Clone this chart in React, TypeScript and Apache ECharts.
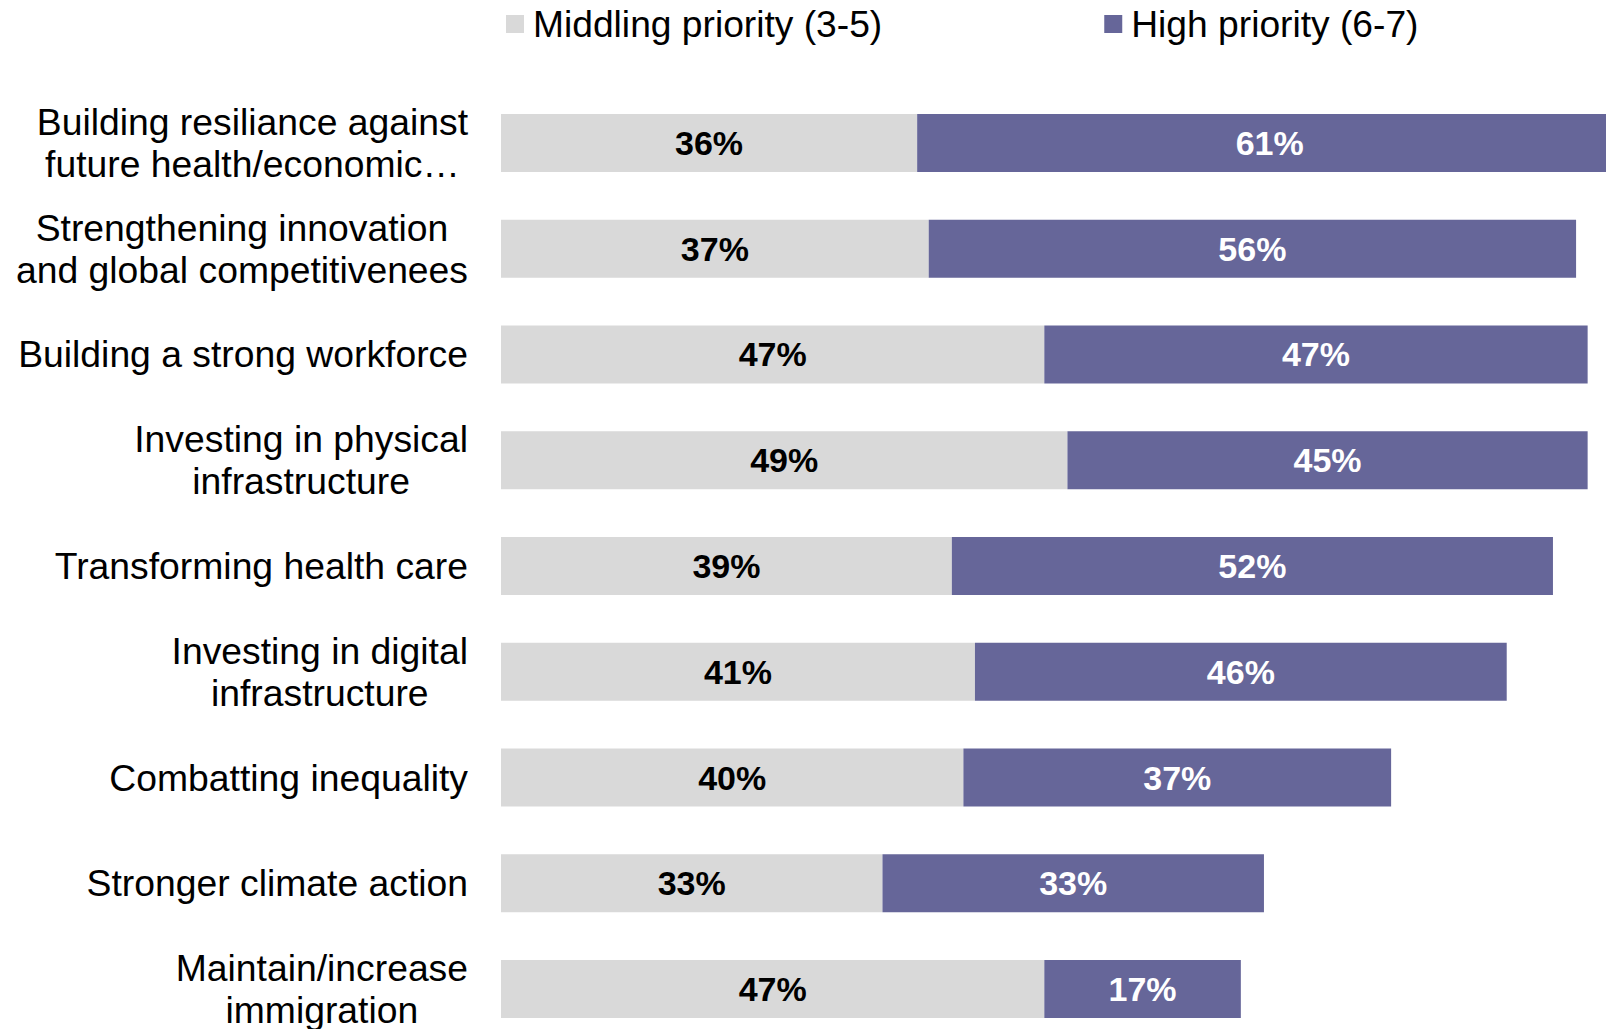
import React, { useEffect, useRef } from "react";
import * as echarts from "echarts";

const categories = [
  "Building resiliance against\nfuture health/economic…",
  "Strengthening innovation\nand global competitivenees",
  "Building a strong workforce",
  "Investing in physical\ninfrastructure",
  "Transforming health care",
  "Investing in digital\ninfrastructure",
  "Combatting inequality",
  "Stronger climate action",
  "Maintain/increase\nimmigration",
];
const middling = [36, 37, 47, 49, 39, 41, 40, 33, 47];
const high = [61, 56, 47, 45, 52, 46, 37, 33, 17];
const seriesNames = ["Middling priority (3-5)", "High priority (6-7)"];

const FONT = "'Liberation Sans', Arial, Helvetica, sans-serif";

export default function App() {
  const ref = useRef<HTMLDivElement>(null);
  useEffect(() => {
    document.body.style.margin = "0";
    const chart = echarts.init(ref.current!, null, { renderer: "svg" });
    const labelStyle = (color: string) => ({
      show: true,
      position: "inside" as const,
      formatter: "{c}%",
      color,
      fontFamily: FONT,
      fontWeight: "bold" as const,
      fontSize: 34,
    });
    chart.setOption({
      animation: false,
      backgroundColor: "#ffffff",
      legend: {
        data: seriesNames,
        left: 506,
        top: 4,
        padding: 0,
        itemWidth: 18,
        itemHeight: 18,
        itemGap: 222,
        icon: "rect",
        textStyle: {
          fontFamily: FONT,
          fontSize: 37.2,
          color: "#000",
          lineHeight: 40,
          padding: [0, 0, 0, 4],
        },
      },
      grid: {
        left: 501,
        top: 90,
        width: 1156,
        height: 952,
        containLabel: false,
        outerBoundsMode: "none",
      },
      xAxis: { type: "value", min: 0, max: 100, show: false },
      yAxis: {
        type: "category",
        inverse: true,
        data: categories,
        axisLine: { show: false },
        axisTick: { show: false },
        splitLine: { show: false },
        axisLabel: {
          margin: 33,
          formatter: (v: string) =>
            v
              .split("\n")
              .map((l) => `{c|${l}}`)
              .join("\n"),
          rich: {
            c: {
              align: "center",
              fontFamily: FONT,
              fontSize: 37.3,
              lineHeight: 42,
              color: "#000",
            },
          },
        },
      },
      series: [
        {
          name: seriesNames[0],
          type: "bar",
          stack: "total",
          barWidth: 58,
          data: middling,
          itemStyle: { color: "#D9D9D9" },
          label: labelStyle("#000"),
        },
        {
          name: seriesNames[1],
          type: "bar",
          stack: "total",
          barWidth: 58,
          data: high,
          itemStyle: { color: "#666699" },
          label: labelStyle("#fff"),
        },
      ],
    });
    return () => chart.dispose();
  }, []);
  return <div ref={ref} style={{ width: 1606, height: 1029 }} />;
}
